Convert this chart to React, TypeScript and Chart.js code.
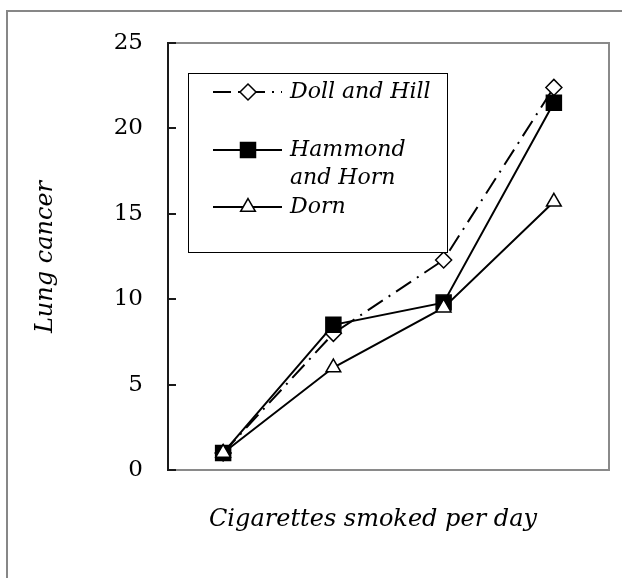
import React, { useEffect, useRef } from 'react';
import { Chart, registerables } from 'chart.js';

Chart.register(...registerables);

// ---- data ----
const categories = ['1', '2', '3', '4'];
const dollHill = [1.0, 8.0, 12.3, 22.4];
const hammondHorn = [1.0, 8.5, 9.8, 21.5];
const dorn = [1.0, 6.0, 9.5, 15.7];
const yTicks = [0, 5, 10, 15, 20, 25];
const seriesNames = ['Doll and Hill', 'Hammond and Horn', 'Dorn'];
const legendLines = [['Doll and Hill'], ['Hammond', 'and Horn'], ['Dorn']];
const xTitle = 'Cigarettes smoked per day';
const yTitle = 'Lung cancer';

const FONT = "'DejaVu Serif', Georgia, serif";
const DASH = [18, 7, 2, 7];

type Marker = 'diamond' | 'square' | 'triangle';

function drawMarker(ctx: CanvasRenderingContext2D, kind: Marker, x: number, y: number) {
  ctx.save();
  ctx.lineWidth = 1.5;
  ctx.strokeStyle = '#000';
  ctx.setLineDash([]);
  ctx.beginPath();
  if (kind === 'diamond') {
    const r = 8;
    ctx.moveTo(x, y - r);
    ctx.lineTo(x + r, y);
    ctx.lineTo(x, y + r);
    ctx.lineTo(x - r, y);
    ctx.closePath();
    ctx.fillStyle = '#fff';
  } else if (kind === 'square') {
    const s = 7.5;
    ctx.rect(x - s, y - s, 2 * s, 2 * s);
    ctx.fillStyle = '#000';
  } else {
    const r = 8.5;
    ctx.moveTo(x, y - r);
    ctx.lineTo(x + r * Math.sin((2 * Math.PI) / 3), y - r * Math.cos((2 * Math.PI) / 3));
    ctx.lineTo(x - r * Math.sin((2 * Math.PI) / 3), y - r * Math.cos((2 * Math.PI) / 3));
    ctx.closePath();
    ctx.fillStyle = '#fff';
  }
  ctx.fill();
  ctx.stroke();
  ctx.restore();
}

const framePlugin = {
  id: 'framePlugin',
  beforeDraw(chart: any) {
    const ctx = chart.ctx as CanvasRenderingContext2D;
    ctx.save();
    ctx.fillStyle = '#fff';
    ctx.fillRect(0, 0, chart.width, chart.height);
    ctx.fillStyle = '#878787';
    ctx.fillRect(6, 10, 2, chart.height - 10);
    ctx.fillRect(6, 10, chart.width - 6, 2);
    ctx.restore();
  },
  beforeDatasetsDraw(chart: any) {
    const ctx = chart.ctx as CanvasRenderingContext2D;
    const { left, top, right, bottom } = chart.chartArea;
    ctx.save();
    ctx.fillStyle = '#8a8a8a';
    ctx.fillRect(left, top - 1, right - left + 1, 2);
    ctx.fillRect(right - 1, top - 1, 2, bottom - top + 2);
    ctx.fillRect(left, bottom - 1, right - left + 1, 2);
    ctx.fillStyle = '#1a1a1a';
    ctx.fillRect(left - 1, top - 1, 2, bottom - top + 2);
    const ys = chart.scales.y;
    yTicks.forEach((v) => {
      const py = ys.getPixelForValue(v);
      ctx.fillRect(left, Math.round(py) - 1, 8, 2);
    });
    // axis titles
    ctx.fillStyle = '#000';
    ctx.font = `italic 24px ${FONT}`;
    ctx.textAlign = 'center';
    ctx.textBaseline = 'middle';
    ctx.fillText(xTitle, 373, 520);
    ctx.translate(46, 257);
    ctx.rotate(-Math.PI / 2);
    ctx.fillText(yTitle, 0, 0);
    ctx.restore();
  },
  afterDraw(chart: any) {
    const ctx = chart.ctx as CanvasRenderingContext2D;
    ctx.save();
    // legend box
    const bx = 188, by = 73, bw = 259, bh = 179;
    ctx.fillStyle = '#fff';
    ctx.fillRect(bx, by, bw, bh);
    ctx.strokeStyle = '#000';
    ctx.lineWidth = 1;
    ctx.strokeRect(bx + 0.5, by + 0.5, bw, bh);
    const markers: Marker[] = ['diamond', 'square', 'triangle'];
    const rowY = [92, 150, 207];
    const dashes = [DASH, [], []];
    ctx.font = `italic 22px ${FONT}`;
    ctx.textBaseline = 'middle';
    ctx.textAlign = 'left';
    legendLines.forEach((lines, i) => {
      const y = rowY[i];
      ctx.save();
      ctx.strokeStyle = '#000';
      ctx.lineWidth = 2;
      ctx.setLineDash(dashes[i]);
      ctx.beginPath();
      ctx.moveTo(213, y);
      ctx.lineTo(282, y);
      ctx.stroke();
      ctx.restore();
      drawMarker(ctx, markers[i], 248, y);
      ctx.fillStyle = '#000';
      lines.forEach((t, j) => ctx.fillText(t, 290, y + j * 28));
    });
    ctx.restore();
  },
};

export default function App() {
  const ref = useRef<HTMLCanvasElement | null>(null);
  useEffect(() => {
    if (!ref.current) return;
    const chart = new Chart(ref.current, {
      type: 'line',
      data: {
        labels: categories,
        datasets: [
          {
            label: seriesNames[0],
            data: dollHill,
            borderColor: '#000',
            borderWidth: 2,
            borderDash: DASH,
            pointStyle: 'rectRot',
            pointRadius: 8,
            pointBackgroundColor: '#fff',
            pointBorderColor: '#000',
            pointBorderWidth: 1.5,
            tension: 0,
            fill: false,
            order: 2,
          },
          {
            label: seriesNames[1],
            data: hammondHorn,
            borderColor: '#000',
            borderWidth: 2,
            pointStyle: 'rect',
            pointRadius: 10.6,
            pointBackgroundColor: '#000',
            pointBorderColor: '#000',
            pointBorderWidth: 1.5,
            tension: 0,
            fill: false,
            order: 1,
          },
          {
            label: seriesNames[2],
            data: dorn,
            borderColor: '#000',
            borderWidth: 2,
            pointStyle: 'triangle',
            pointRadius: 8.5,
            pointBackgroundColor: '#fff',
            pointBorderColor: '#000',
            pointBorderWidth: 1.5,
            tension: 0,
            fill: false,
            order: 0,
          },
        ],
      },
      options: {
        animation: false,
        responsive: false,
        devicePixelRatio: 1,
        events: [],
        layout: { padding: { top: 43, right: 13, left: 0, bottom: 0 } },
        plugins: { legend: { display: false }, tooltip: { enabled: false } },
        scales: {
          x: {
            type: 'category',
            offset: true,
            grid: { display: false },
            border: { display: false },
            ticks: { display: false },
            afterFit: (s: any) => { s.height = 108; },
          },
          y: {
            min: 0,
            max: 25,
            grid: { display: false },
            border: { display: false },
            ticks: {
              stepSize: 5,
              padding: 17,
              color: '#000',
              font: { family: FONT, size: 23 },
            },
            afterFit: (s: any) => { s.width = 168; },
          },
        },
      },
      plugins: [framePlugin],
    } as any);
    return () => chart.destroy();
  }, []);
  return (
    <div style={{ position: 'absolute', left: 0, top: 0, width: 622, height: 578 }}>
      <canvas ref={ref} width={622} height={578} style={{ display: 'block', width: 622, height: 578 }} />
    </div>
  );
}
